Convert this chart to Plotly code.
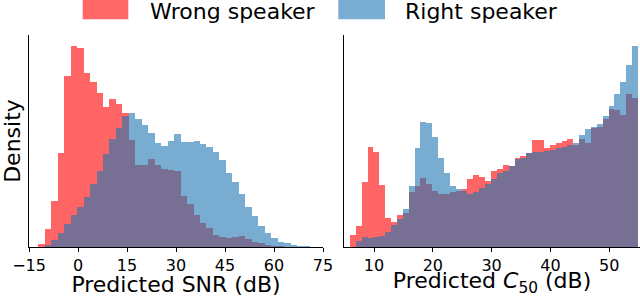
import numpy as np
import plotly.graph_objects as go

# ---------------- data ----------------
# Left panel: Predicted SNR (dB) histogram, density (arbitrary units)
snr_bin_start = -12.15
snr_bin_width = 1.98
wrong_snr = [2.7, 17.7, 46, 94.3, 171, 201.3, 199.3, 174.3, 165.3, 154.3, 140.3,
             148, 143, 133.7, 107, 82, 82, 88, 82, 78, 77, 76, 51, 43, 32, 23.7,
             18.7, 12, 10.3, 9.3, 10.3, 11, 7.7, 5.3, 4.3, 2, 1, 0.5, 0, 0, 0, 0]
right_snr = [0, 1.5, 7, 14.3, 23.5, 32, 40, 49.5, 63, 76, 92.7, 108, 118.7, 131.3,
             133.7, 128, 122, 113.7, 104.3, 101.3, 106.3, 113, 105.3, 104.7, 106.3,
             103, 100.3, 94.7, 87, 74.3, 65.3, 53, 40.3, 31.3, 21, 13.7, 9.3, 5.3,
             3.7, 2, 1, 0.4]

# Right panel: Predicted C50 (dB) histogram, density (arbitrary units)
c50_bin_start = 5.9
c50_bin_width = 1.0
wrong_c50 = [12, 21, 65.3, 100.3, 94.7, 62, 28.7, 24.7, 32, 33.7, 55, 61.3, 69.3,
             62.7, 56, 53, 53, 54.7, 56, 57.7, 67.7, 72, 70.3, 66.3, 76.3, 78, 82,
             80.5, 89, 91.3, 94, 107, 107.3, 98.7, 102, 104.3, 106.3, 107.7, 102,
             107.7, 103.7, 119, 120.3, 127.7, 138, 137, 132, 153, 149.3]
right_c50 = [0, 6, 9.7, 9, 10.3, 11.3, 15.3, 22, 27.7, 38, 61, 98.7, 124.7, 123.7,
             110, 89, 73.7, 61, 57.7, 56, 53, 55.3, 59.3, 62.7, 67.7, 73.5, 76.3,
             81.3, 87.5, 88.7, 93.5, 94.7, 95.3, 96.3, 97, 98.7, 100, 102, 104.3,
             112, 117.7, 120, 122.7, 131.3, 141, 152.7, 164.7, 182, 201.3]

snr_ticks = [-15, 0, 15, 30, 45, 60, 75]
snr_ticktext = ["\u221215", "0", "15", "30", "45", "60", "75"]
c50_ticks = [10, 20, 30, 40, 50]
c50_ticktext = ["10", "20", "30", "40", "50"]

series_names = ["Wrong speaker", "Right speaker"]

# ---------------- figure ----------------
snr_centers = snr_bin_start + snr_bin_width * (np.arange(len(wrong_snr)) + 0.5)
c50_centers = c50_bin_start + c50_bin_width * (np.arange(len(wrong_c50)) + 0.5)

RED = "#ff0000"
BLUE = "#1f77b4"
FONT = "DejaVu Sans"

fig = go.Figure()
for x, y, w, ax, ay in [(snr_centers, wrong_snr, snr_bin_width, "x", "y"),
                        (c50_centers, wrong_c50, c50_bin_width, "x2", "y2")]:
    fig.add_trace(go.Bar(x=x, y=y, width=w, xaxis=ax, yaxis=ay,
                         marker=dict(color=RED, line=dict(width=0)),
                         opacity=0.6, name=series_names[0], showlegend=False))
for x, y, w, ax, ay in [(snr_centers, right_snr, snr_bin_width, "x", "y"),
                        (c50_centers, right_c50, c50_bin_width, "x2", "y2")]:
    fig.add_trace(go.Bar(x=x, y=y, width=w, xaxis=ax, yaxis=ay,
                         marker=dict(color=BLUE, line=dict(width=0)),
                         opacity=0.6, name=series_names[1], showlegend=False))

W, H = 640, 297
ML, MR, MT, MB = 29, 0, 35, 50
pw = W - ML - MR
ph = H - MT - MB

def px_x(p):
    return (p - ML) / pw

def px_y(p):
    return (H - MB - p) / ph

ymax_l = max(max(wrong_snr), max(right_snr)) * 1.053
ymax_r = max(max(wrong_c50), max(right_c50)) * 1.053

axis_common = dict(showline=True, linecolor="black", linewidth=1.2,
                   ticks="outside", ticklen=4, tickwidth=1.1, tickcolor="black",
                   showgrid=False, zeroline=False, automargin=False,
                   tickfont=dict(family=FONT, size=16, color="black"))

fig.update_layout(
    template="none",
    width=W, height=H, autosize=False,
    margin=dict(l=ML, r=MR, t=MT, b=MB, pad=0, autoexpand=False),
    paper_bgcolor="white", plot_bgcolor="white",
    barmode="overlay", bargap=0,
    font=dict(family=FONT, color="black"),
    xaxis=dict(domain=[0, px_x(323)], range=[-15, 75],
               tickmode="array", tickvals=snr_ticks, ticktext=snr_ticktext,
               title=dict(text="Predicted SNR (dB)", standoff=10,
                          font=dict(family=FONT, size=22, color="black")),
               anchor="y", **axis_common),
    xaxis2=dict(domain=[px_x(344), 1], range=[4.89, 55.25],
                tickmode="array", tickvals=c50_ticks, ticktext=c50_ticktext,
                title=dict(text="Predicted <i>C</i><sub>50</sub> (dB)", standoff=10,
                           font=dict(family=FONT, size=22, color="black")),
                anchor="y2", **axis_common),
    yaxis=dict(range=[0, ymax_l], showline=True, linecolor="black", linewidth=1.2,
               showticklabels=False, ticks="", showgrid=False, zeroline=False,
               automargin=False,
               title=dict(text="Density",
                          font=dict(family=FONT, size=22, color="black")),
               anchor="x"),
    yaxis2=dict(range=[0, ymax_r], showline=True, linecolor="black", linewidth=1.2,
                showticklabels=False, ticks="", showgrid=False, zeroline=False,
                automargin=False, anchor="x2"),
)

# Legend drawn above the panels (patches + labels)
legend_items = [(82.7, 128.3, 150, RED, series_names[0]),
                (338.3, 385, 405, BLUE, series_names[1])]
for x0, x1, tx, col, label in legend_items:
    fig.add_shape(type="rect", xref="paper", yref="paper",
                  x0=px_x(x0), x1=px_x(x1), y0=px_y(19.3), y1=px_y(-5),
                  fillcolor=col, opacity=0.6, line=dict(width=0), layer="above")
    fig.add_annotation(xref="paper", yref="paper", x=px_x(tx - 2), y=px_y(11.5),
                       xanchor="left", yanchor="middle", showarrow=False,
                       text=label, font=dict(family=FONT, size=22, color="black"))

fig.write_html(
    "out.html",
    config={"displayModeBar": False},
    post_script="document.body.style.margin='0px';document.body.style.padding='0px';"
                "document.body.style.overflow='hidden';",
)
